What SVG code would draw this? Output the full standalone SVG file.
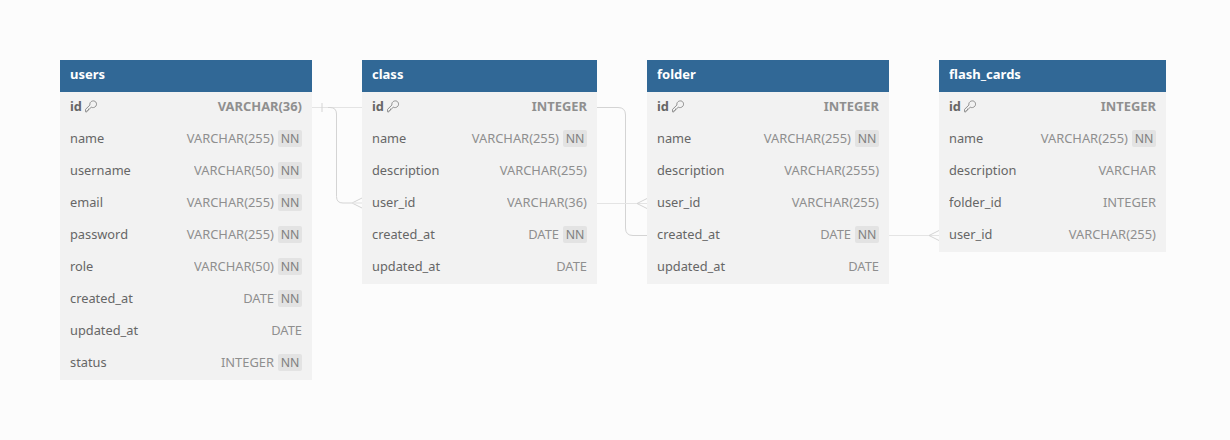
<svg xmlns="http://www.w3.org/2000/svg" width="1230" height="440" viewBox="0 0 1230 440">
<style>
text{font-family:"Noto Sans","Open Sans",sans-serif;font-size:12.8px;opacity:.999}
.bg{fill:#f2f2f2}
.hd{fill:#316896}
.t{font-weight:700;fill:#fff;font-size:13px}
.n{fill:#666}
.k{fill:#666;font-weight:700}
.y{fill:#8f8f8f;text-anchor:end;font-size:12.9px}
.yk{fill:#8f8f8f;text-anchor:end;font-weight:700;font-size:12.9px}
.nn{fill:#e3e3e3}
.nt{fill:#808080;text-anchor:middle;font-size:12.3px}
.c{fill:none;stroke:#e4e4e4;stroke-width:1.2}
.cf{fill:none;stroke:#d4d4d4;stroke-width:1}
.key{fill:none;stroke:#8a8a8a;stroke-width:.8}
</style>
<defs>
<g id="keyi"><path class="key" transform="scale(1.2)" d="M-4.400 4.600L-4.600 2.400L-.9 -1.200C-1.400 -3.600 .8 -5 2.600 -4.600C4.600 -4.200 5.200 -1.600 4 -.2C3 1 1.200 1.200 .2 .6L-1.200 2L-2 2L-2.200 3.200L-3.200 3.400L-3.300 4.400Z"/></g>
<g id="nnb"><rect class="nn" x="-24" y="-8.500" width="24" height="17" rx="2"/></g>
</defs>
<rect width="1230" height="440" fill="#fcfcfc"/>
<g id="connectors">
<path class="c" d="M312 107.500H362"/>
<path class="cf" d="M322 103V112"/>
<path class="cf" d="M328 107.500H330Q336.500 107.500 336.500 114V196.500Q336.500 203 343 203H352"/>
<path class="cf" d="M362 198L352 203L362 208"/>
<path class="c" d="M352 203H362"/>
<path class="cf" d="M597 107.500H618Q625.500 107.500 625.500 115V228Q625.500 235.500 633 235.500H647"/>
<path class="c" d="M597 203.500H647"/>
<path class="cf" d="M647 198.500L637 203.500L647 208.500"/>
<path class="c" d="M889 235.500H939"/>
<path class="cf" d="M939 230.500L929 235.500L939 240.500"/>
</g>
<g id="users">
<rect class="bg" x="60" y="60" width="252" height="320"/><rect class="hd" x="60" y="60" width="252" height="32"/>
<text class="t" x="70" y="79">users</text>
<text class="k" x="70" y="111">id</text><use href="#keyi" x="91" y="106.500"/><text class="yk" x="302" y="111">VARCHAR(36)</text>
<text class="n" x="70" y="143">name</text><text class="y" x="274" y="143">VARCHAR(255)</text><use href="#nnb" x="302" y="138.500"/><text class="nt" x="290" y="143">NN</text>
<text class="n" x="70" y="175">username</text><text class="y" x="274" y="175">VARCHAR(50)</text><use href="#nnb" x="302" y="170.500"/><text class="nt" x="290" y="175">NN</text>
<text class="n" x="70" y="207">email</text><text class="y" x="274" y="207">VARCHAR(255)</text><use href="#nnb" x="302" y="202.500"/><text class="nt" x="290" y="207">NN</text>
<text class="n" x="70" y="239">password</text><text class="y" x="274" y="239">VARCHAR(255)</text><use href="#nnb" x="302" y="234.500"/><text class="nt" x="290" y="239">NN</text>
<text class="n" x="70" y="271">role</text><text class="y" x="274" y="271">VARCHAR(50)</text><use href="#nnb" x="302" y="266.500"/><text class="nt" x="290" y="271">NN</text>
<text class="n" x="70" y="303">created_at</text><text class="y" x="274" y="303">DATE</text><use href="#nnb" x="302" y="298.500"/><text class="nt" x="290" y="303">NN</text>
<text class="n" x="70" y="335">updated_at</text><text class="y" x="302" y="335">DATE</text>
<text class="n" x="70" y="367">status</text><text class="y" x="274" y="367">INTEGER</text><use href="#nnb" x="302" y="362.500"/><text class="nt" x="290" y="367">NN</text>
</g>
<g id="class">
<rect class="bg" x="362" y="60" width="235" height="224"/><rect class="hd" x="362" y="60" width="235" height="32"/>
<text class="t" x="372" y="79">class</text>
<text class="k" x="372" y="111">id</text><use href="#keyi" x="393" y="106.500"/><text class="yk" x="587" y="111">INTEGER</text>
<text class="n" x="372" y="143">name</text><text class="y" x="559" y="143">VARCHAR(255)</text><use href="#nnb" x="587" y="138.500"/><text class="nt" x="575" y="143">NN</text>
<text class="n" x="372" y="175">description</text><text class="y" x="587" y="175">VARCHAR(255)</text>
<text class="n" x="372" y="207">user_id</text><text class="y" x="587" y="207">VARCHAR(36)</text>
<text class="n" x="372" y="239">created_at</text><text class="y" x="559" y="239">DATE</text><use href="#nnb" x="587" y="234.500"/><text class="nt" x="575" y="239">NN</text>
<text class="n" x="372" y="271">updated_at</text><text class="y" x="587" y="271">DATE</text>
</g>
<g id="folder">
<rect class="bg" x="647" y="60" width="242" height="224"/><rect class="hd" x="647" y="60" width="242" height="32"/>
<text class="t" x="657" y="79">folder</text>
<text class="k" x="657" y="111">id</text><use href="#keyi" x="678" y="106.500"/><text class="yk" x="879" y="111">INTEGER</text>
<text class="n" x="657" y="143">name</text><text class="y" x="851" y="143">VARCHAR(255)</text><use href="#nnb" x="879" y="138.500"/><text class="nt" x="867" y="143">NN</text>
<text class="n" x="657" y="175">description</text><text class="y" x="879" y="175">VARCHAR(2555)</text>
<text class="n" x="657" y="207">user_id</text><text class="y" x="879" y="207">VARCHAR(255)</text>
<text class="n" x="657" y="239">created_at</text><text class="y" x="851" y="239">DATE</text><use href="#nnb" x="879" y="234.500"/><text class="nt" x="867" y="239">NN</text>
<text class="n" x="657" y="271">updated_at</text><text class="y" x="879" y="271">DATE</text>
</g>
<g id="flash_cards">
<rect class="bg" x="939" y="60" width="227" height="192"/><rect class="hd" x="939" y="60" width="227" height="32"/>
<text class="t" x="949" y="79">flash_cards</text>
<text class="k" x="949" y="111">id</text><use href="#keyi" x="970" y="106.500"/><text class="yk" x="1156" y="111">INTEGER</text>
<text class="n" x="949" y="143">name</text><text class="y" x="1128" y="143">VARCHAR(255)</text><use href="#nnb" x="1156" y="138.500"/><text class="nt" x="1144" y="143">NN</text>
<text class="n" x="949" y="175">description</text><text class="y" x="1156" y="175">VARCHAR</text>
<text class="n" x="949" y="207">folder_id</text><text class="y" x="1156" y="207">INTEGER</text>
<text class="n" x="949" y="239">user_id</text><text class="y" x="1156" y="239">VARCHAR(255)</text>
</g>
</svg>
